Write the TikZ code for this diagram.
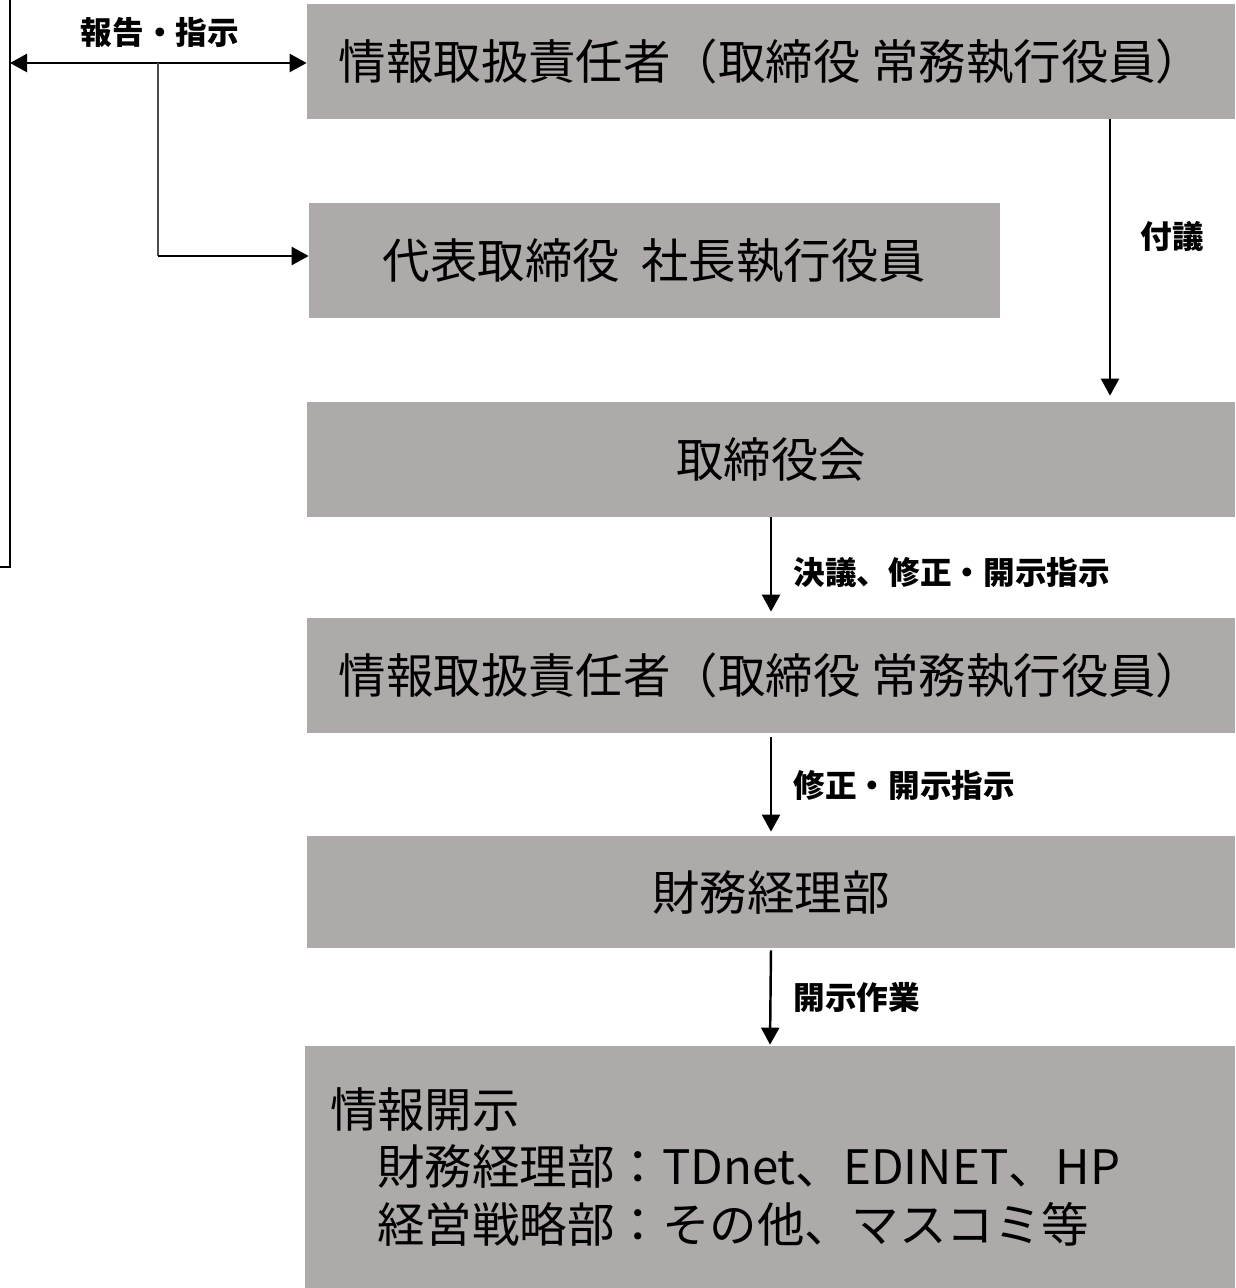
\documentclass[tikz,border=0pt]{standalone}
\usepackage{fontspec}
\setmainfont{Noto Sans CJK JP}
\usepackage{xcolor}
\usepackage{tikz}
\definecolor{boxgray}{RGB}{173, 170, 169}
\usetikzlibrary{arrows.meta, positioning, calc}

\begin{document}
\begin{tikzpicture}[
    infobox/.style={fill=boxgray, draw=none, inner sep=0pt, minimum height=2.3cm, font=\fontsize{27}{33}\selectfont},
    flowarrow/.style={line width=1.4pt, -{Triangle[length=0.34cm, width=0.36cm]}},
    flowlabel/.style={font=\fontsize{18}{21}\selectfont\bfseries}
]
    \useasboundingbox (0,0) rectangle (24.7,-25.76);

    % Boxes
    \node[infobox, minimum width=18.56cm] (officer) at (15.42,-1.23) {情報取扱責任者（取締役 常務執行役員）};
    \node[infobox, minimum width=13.82cm] (president) at (13.09,-5.21) {代表取締役\ \ 社長執行役員};
    \node[infobox, minimum width=18.56cm] (board) at (15.42,-9.19) {取締役会};
    \node[infobox, minimum width=18.56cm] (officertwo) at (15.42,-13.51) {情報取扱責任者（取締役 常務執行役員）};
    \node[infobox, minimum width=18.56cm, minimum height=2.24cm] (finance) at (15.42,-17.84) {財務経理部};
    \node[infobox, minimum width=18.6cm, minimum height=4.84cm, text width=17.6cm, inner xsep=0.5cm, align=left] (disclosure) at (15.4,-23.34)
        {情報開示\\　財務経理部：TDnet、EDINET、HP\\　経営戦略部：その他、マスコミ等};

    % Left bracket
    \coordinate (lefttop) at (0.2,0);
    \coordinate (leftbot) at (0,-11.34);
    \draw[line width=1.4pt] (leftbot) -| (lefttop);

    % Report / instruction
    \coordinate (reportleft) at (0.2,-1.26);
    \coordinate (branch) at (3.16,-1.26);
    \draw[flowarrow, {Triangle[length=0.34cm, width=0.36cm]}-{Triangle[length=0.34cm, width=0.36cm]}] (reportleft) -- (officer.west |- reportleft);
    \draw[line width=0.7pt, black!70] (branch) -- ++(0,-3.86) coordinate (branchbot);
    \draw[flowarrow] (branchbot) -- (president.west |- branchbot);
    \node[flowlabel] (reportlabel) at (3.2,-0.66) {報告・指示};

    % Down the chain
    \coordinate (fugix) at (22.2,0);
    \draw[flowarrow, shorten >=0.12cm] (officer.south -| fugix) -- (board.north -| fugix);
    \node[flowlabel] (fugilabel) at (23.44,-4.74) {付議};

    \draw[flowarrow, shorten >=0.12cm] (board.south) -- (officertwo.north);
    \node[flowlabel, right] (resolvelabel) at (15.75,-11.46) {決議、修正・開示指示};

    \draw[flowarrow, shorten <=0.08cm, shorten >=0.08cm] (officertwo.south) -- (finance.north);
    \node[flowlabel, right] (fixlabel) at (15.75,-15.7) {修正・開示指示};

    \draw[flowarrow, shorten <=0.04cm, shorten >=0.02cm] (finance.south) -- (disclosure.north);
    \node[flowlabel, right] (worklabel) at (15.75,-19.94) {開示作業};
\end{tikzpicture}
\end{document}
